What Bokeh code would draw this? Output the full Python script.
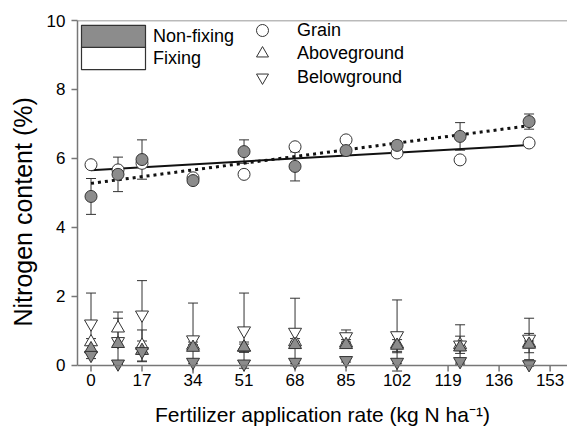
import numpy as np
from bokeh.plotting import figure
from bokeh.models import (ColumnDataSource, Range1d, FixedTicker, Span, Whisker,
                          TeeHead, Legend, LegendItem, Title)
from bokeh.embed import file_html
from bokeh.resources import INLINE

# ---------------- data ----------------
rates = [0, 9, 17, 34, 51, 68, 85, 102, 123, 146]

grain_nonfixing = [4.90, 5.54, 5.97, 5.36, 6.20, 5.77, 6.23, 6.38, 6.64, 7.07]
grain_nonfixing_se = [0.52, 0.50, 0.57, 0.06, 0.34, 0.42, 0.08, 0.12, 0.40, 0.22]
grain_fixing = [5.82, 5.67, 5.86, 5.44, 5.54, 6.34, 6.54, 6.16, 5.96, 6.45]

above_fixing = [0.68, 1.08, 0.58, 0.58, 0.52, 0.68, 0.65, 0.62, 0.60, 0.65]
above_fixing_se = [0.10, 0.47, 0.45, 0.10, 0.10, 0.10, 0.10, 0.25, 0.25, 0.28]
above_nonfixing = [0.48, 0.63, 0.43, 0.52, 0.53, 0.60, 0.60, 0.58, 0.53, 0.61]
above_nonfixing_se = [0.15, 0.10, 0.10, 0.08, 0.15, 0.10, 0.08, 0.17, 0.10, 0.10]

below_fixing = [1.21, 0.70, 1.47, 0.75, 1.01, 0.97, 0.84, 0.87, 0.60, 0.77]
below_fixing_se = [0.89, 0.67, 0.99, 1.06, 1.09, 0.98, 0.19, 1.03, 0.58, 0.60]
below_nonfixing = [0.30, 0.05, 0.41, 0.10, 0.05, 0.10, 0.15, 0.10, 0.12, 0.03]
below_nonfixing_se = [0.10, 0.05, 0.30, 0.05, 0.05, 0.05, 0.05, 0.05, 0.05, 0.05]

x_ticks = [0, 17, 34, 51, 68, 85, 102, 119, 136, 153]
y_ticks = [0, 2, 4, 6, 8, 10]

# ---------------- style / layout ----------------
FONT = "Liberation Sans"
GRAY = "#8c8c8c"
EDGE = "#333333"
AXIS = "#777777"

W, H = 567, 443
BL, BT, BB = 77, 20, 70          # borders (px)
X0, X1 = -4.5, 158.8
Y0, Y1 = -0.232, 10

p = figure(width=W, height=H, x_range=Range1d(X0, X1), y_range=Range1d(Y0, Y1),
           output_backend="svg", toolbar_location=None,
           min_border_left=BL, min_border_right=0, min_border_top=BT, min_border_bottom=BB)
p.outline_line_color = None
p.grid.visible = False

px_y = (H - BT - BB) / (Y1 - Y0)

# y axis
p.yaxis.ticker = FixedTicker(ticks=y_ticks)
p.yaxis.bounds = (0, 10)
p.yaxis.axis_line_color = AXIS
p.yaxis.axis_line_width = 1.5
p.yaxis.major_tick_line_color = AXIS
p.yaxis.major_tick_line_width = 1.5
p.yaxis.major_tick_out = 6
p.yaxis.major_tick_in = 0
p.yaxis.minor_tick_line_color = None
p.yaxis.major_label_standoff = 6

# x axis (line + ticks drawn at y = 0 below)
p.xaxis.ticker = FixedTicker(ticks=x_ticks)
p.xaxis.axis_line_color = None
p.xaxis.major_tick_line_color = None
p.xaxis.major_tick_out = 0
p.xaxis.major_tick_in = 0
p.xaxis.minor_tick_line_color = None
p.xaxis.major_label_standoff = 0
p.xaxis.axis_label = "Fertilizer application rate (kg N ha\u207b\u00b9)"
p.xaxis.axis_label_standoff = 14
p.xaxis.axis_label_text_font_size = "21px"

for ax in (p.xaxis, p.yaxis):
    ax.major_label_text_font = FONT
    ax.major_label_text_font_size = "17px"
    ax.major_label_text_color = "black"
    ax.axis_label_text_font = FONT
    ax.axis_label_text_font_style = "normal"
    ax.axis_label_text_color = "black"

# y-axis title, set a little below the axis centre as in the original
ytitle = Title(text="Nitrogen content (%)", align="left", offset=47,
               vertical_align="middle", standoff=12,
               text_font=FONT, text_font_size="25px", text_font_style="normal",
               text_color="black")
p.add_layout(ytitle, "left")

p.add_layout(Span(location=0, dimension="width", line_color=AXIS, line_width=1.5))
p.add_layout(Span(location=10, dimension="width", line_color=AXIS, line_width=1.5))
tick_len = 6 / px_y
p.segment(x0=x_ticks, y0=[0] * len(x_ticks), x1=x_ticks, y1=[-tick_len] * len(x_ticks),
          line_color=AXIS, line_width=1.5)

# regression lines
xs_fit = [rates[0], rates[-1]]
fit_fix = np.polyfit(rates, grain_fixing, 1)
fit_non = np.polyfit(rates, grain_nonfixing, 1)
p.line(xs_fit, list(np.polyval(fit_fix, xs_fit)), line_color="#111111", line_width=2)
p.line(xs_fit, list(np.polyval(fit_non, xs_fit)), line_color="#111111", line_width=3,
       line_dash="3 4")


def whisk(vals, se):
    src = ColumnDataSource(dict(x=rates,
                                upper=[v + s for v, s in zip(vals, se)],
                                lower=[v - s for v, s in zip(vals, se)]))
    w = Whisker(source=src, base="x", upper="upper", lower="lower",
                line_color=EDGE, line_width=1,
                upper_head=TeeHead(size=10, line_color=EDGE, line_width=1),
                lower_head=TeeHead(size=10, line_color=EDGE, line_width=1),
                level="underlay")
    p.add_layout(w)


whisk(grain_nonfixing, grain_nonfixing_se)
whisk(above_fixing, above_fixing_se)
whisk(above_nonfixing, above_nonfixing_se)
whisk(below_fixing, below_fixing_se)
whisk(below_nonfixing, below_nonfixing_se)

r_grain_fix = p.scatter(rates, grain_fixing, marker="circle", size=12,
                        fill_color="white", line_color=EDGE, line_width=1)
p.scatter(rates, grain_nonfixing, marker="circle", size=12,
          fill_color=GRAY, line_color=EDGE, line_width=1)

r_above_fix = p.scatter(rates, above_fixing, marker="triangle", size=13,
                        fill_color="white", line_color=EDGE, line_width=1)
r_below_fix = p.scatter(rates, below_fixing, marker="inverted_triangle", size=13,
                        fill_color="white", line_color=EDGE, line_width=1)
p.scatter(rates, above_nonfixing, marker="triangle", size=13,
          fill_color=GRAY, line_color=EDGE, line_width=1)
p.scatter(rates, below_nonfixing, marker="inverted_triangle", size=13,
          fill_color=GRAY, line_color=EDGE, line_width=1)

# legend swatches (invisible renderers used only for legend glyphs)
sw_non = p.quad(left=rates, right=rates, top=grain_nonfixing, bottom=grain_nonfixing,
                fill_color=GRAY, line_color=EDGE, line_width=1.2)
sw_fix = p.quad(left=rates, right=rates, top=grain_fixing, bottom=grain_fixing,
                fill_color="white", line_color=EDGE, line_width=1.2)
sw_non.visible = False
sw_fix.visible = False


def add_legend(label, renderer, loc, gw, gh, standoff):
    leg = Legend(items=[LegendItem(label=label, renderers=[renderer])],
                 location=loc, glyph_width=gw, glyph_height=gh,
                 label_standoff=standoff, padding=0, margin=0, spacing=0,
                 border_line_color=None, background_fill_alpha=0,
                 label_text_font=FONT, label_text_font_size="18px",
                 label_text_color="black")
    p.add_layout(leg)


add_legend("Non-fixing", sw_non, (-4, 323), 80, 28, 0)
add_legend("Fixing", sw_fix, (-4, 301), 80, 28, 0)
add_legend("Grain", r_grain_fix, (170, 328), 30, 30, 20)
add_legend("Aboveground", r_above_fix, (170, 305), 30, 30, 20)
add_legend("Belowground", r_below_fix, (170, 281), 30, 30, 20)

open("out.html", "w").write(file_html(p, INLINE))
